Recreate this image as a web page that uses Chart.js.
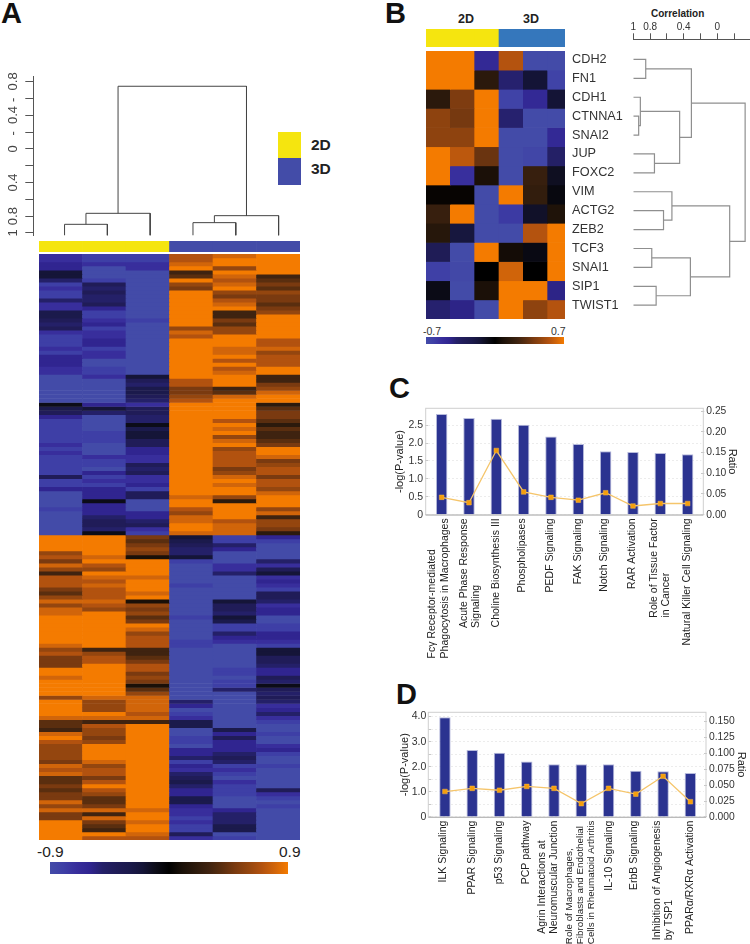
<!DOCTYPE html>
<html>
<head>
<meta charset="utf-8">
<script src="https://cdn.jsdelivr.net/npm/chart.js@4"></script>
<style>
  html, body { margin: 0; background: #fff; }
  #page { position: relative; width: 750px; height: 944px; overflow: hidden; font-family: "Liberation Sans", Arial, sans-serif; color: #222; }
  #page canvas { position: absolute; display: block; }
  .txt { position: absolute; white-space: nowrap; line-height: 1; }
  .clip { position: absolute; overflow: hidden; }
</style>
</head>
<body>
<div id="page"></div>
<script>
// panel A heatmap, one list per sample, values x10 on the -0.9..0.9 scale
const heatA2D1 = [
  -7,-7,-6,-6,-2,-2,-5,-8,-7,-8, -8,-5,-7,-7,-3,-3,-4,-5,-4,-7, -8,-8,-8,-7,-8,-6,-6,-6,-7,-7,
  -9,-9,-9,-9,-9,-9,-9,-1,-3,-4, -6,-8,-8,-8,-8,-8,-8,-7,-8,-7, -8,-8,-8,-8,-8,-4,-8,-8,-6,-9,
  -9,-9,-9,-8,-9,-9,-9,-9,-9,-9,
  9,9,9,9,6,7,5,8,6,3, 7,7,7,5,4,6,8,6,8,8, 9,9,9,9,9,9,9,8,6,7, 5,5,5,9,9,8,9,9,9,9,
  6,9,9,9,9,8,4,4,3,8, 9,7,6,6,6,6,5,8,7,8, 4,4,5,4,5,5,8,6,8,5, 5,9,9,9,9,9];
const heatA2D2 = [
  -8,-8,-7,-9,-9,-9,-8,-4,-5,-4, -5,-5,-4,-6,-8,-8,-7,-6,-8,-7, -7,-6,-6,-8,-7,-7,-9,-9,-8,-8,
  -7,-9,-9,-9,-9,-9,-9,-6,-2,-5, -9,-9,-9,-9,-8,-8,-8,-9,-9,-9, -7,-8,-8,-9,-6,-8,-7,-8,-6,-6,
  -6,-1,-6,-6,-6,-5,-4,-4,-5,-1,
  9,9,9,9,9,8,9,7,6,9, 8,7,8,7,7,7,8,7,6,9, 9,9,9,9,9,9,9,9,3,6, 7,7,9,9,9,9,9,9,9,9,
  8,6,6,6,9,8,3,7,6,6, 5,6,9,9,9,9,8,6,7,7, 5,7,9,7,6,4,4,5,8,3, 8,5,4,3,9,7];
const heatA2D3 = [
  -8,-8,-7,-7,-9,-9,-9,-9,-9,-9, -9,-9,-9,-9,-9,-9,-8,-9,-9,-9, -9,-9,-9,-9,-9,-9,-9,-9,-9,-9,
  -2,-4,-5,-3,-3,-4,-5,-7,-4,-4, -5,-5,-1,-3,-2,-2,-4,-4,-6,-6, -7,-7,-4,-5,-4,-7,-7,-6,-8,-4,
  -4,-9,-9,-9,-6,-6,-5,-4,-7,-8,
  5,4,5,6,5,1,9,9,9,9, 8,9,9,9,8,9,1,6,5,6, 4,5,9,8,6,7,7,7,3,3, 4,5,7,7,5,6,5,1,4,6,
  8,8,8,8,7,8,3,9,9,9, 9,9,9,9,9,9,9,9,9,9, 9,9,9,9,9,9,9,9,8,9, 9,8,9,9,8,7];
const heatA3D1 = [
  7,7,8,9,3,4,9,6,5,9, 9,9,9,9,9,9,9,9,6,8, 7,9,9,9,9,9,9,9,9,9,
  9,7,7,5,5,6,7,9,9,9, 9,9,9,9,9,9,9,9,9,9, 9,9,9,9,9,9,9,9,9,9,
  8,9,9,7,6,8,8,9,9,8,
  -2,-3,-4,-5,-5,-2,-8,-9,-9,-9, -9,-9,-8,-9,-9,-9,-9,-9,-9,-9, -8,-9,-9,-9,-9,-9,-8,-8,-9,-9,
  -9,-9,-9,-9,-9,-9,-9,-9,-9,-9, -9,-5,-6,-9,-8,-7,-3,-3,-9,-9, -8,-8,-9,-6,-6,-5,-8,-6,-7,-5,
  -4,-3,-5,-6,-6,-3,-3,-6,-7,-7, -8,-7,-8,-8,-4,-7];
const heatA3D2 = [
  8,9,9,6,9,8,7,8,9,6, 5,7,8,9,3,3,5,4,6,6, 9,9,9,8,8,9,7,9,7,8,
  9,9,9,3,4,8,9,9,9,9, 9,7,9,8,9,6,8,9,6,7, 7,7,7,5,6,8,9,8,9,9,
  6,2,9,9,9,9,7,8,8,8,
  -8,-8,-5,-6,-9,-9,-9,-7,-7,-5, -9,-9,-9,-9,-9,-9,-2,-4,-4,-5, -2,-3,-8,-8,-5,-6,-7,-9,-9,-9,
  -9,-9,-9,-8,-8,-9,-8,-8,-5,-9, -9,-9,-9,-9,-9,-9,-9,-9,-3,-6, -4,-6,-6,-6,-5,-4,-5,-8,-7,-8,
  -9,-7,-8,-8,-8,-9,-9,-9,-6,-5, -5,-5,-3,-3,-9,-8];
const heatA3D3 = [
  9,9,9,9,9,3,4,5,4,6, 5,5,4,5,6,9,9,9,9,9, 9,7,7,8,6,7,7,7,9,9,
  3,3,5,6,8,9,9,2,4,5, 5,4,2,4,3,3,4,5,9,9, 8,5,6,7,7,5,7,7,6,8,
  9,9,9,6,8,3,6,6,5,2,
  -6,-8,-9,-9,-9,-9,-5,-7,-4,-2, -7,-6,-7,-8,-4,-4,-5,-7,-6,-6, -9,-9,-8,-8,-6,-6,-7,-8,-2,-2,
  -4,-4,-5,-6,-6,-4,-5,-1,-4,-5, -4,-5,-7,-6,-5,-7,-8,-9,-9,-8, -9,-9,-7,-6,-8,-9,-9,-8,-9,-9,
  -9,-9,-9,-4,-7,-8,-9,-8,-9,-9, -9,-9,-9,-9,-9,-9];

// panel B heatmap, one list per sample, values x10 on the -0.7..0.7 scale
const genesB = ['CDH2','FN1','CDH1','CTNNA1','SNAI2','JUP','FOXC2','VIM','ACTG2','ZEB2','TCF3','SNAI1','SIP1','TWIST1'];
const heatB2D1 = [7,7,1.5,4.5,4.5,7,7,0.2,2,1.3,-3,-6.3,-0.7,-4];
const heatB2D2 = [7,7,4,3.8,4.5,5.7,-5.5,0.2,7,-1.8,-7,-6.8,-7,-4.5];
const heatB2D3 = [-5,1.5,7,7,7,3.5,0.8,-7,-7,-7,7,0,0.8,-7];
const heatB3D1 = [5.5,-4,-6.5,-4,-7,-7,-7,7,-6,-7,0.6,6.2,7,7];
const heatB3D2 = [-7,-1.5,-5,-7,-7,-6.7,2,1.8,-1.2,5.5,-0.6,0,7,4.5];
const heatB3D3 = [-7,-6.5,-1.5,-7,-5,-3.8,-1,-0.5,1,7,7,7,-4.5,5.5];

// colour scale, blue (low) to black to orange (high)
const heatStops = ['#434ba8','#3e3fa6','#382e9c','#302590','#242068','#201c58','#1b1a4c','#151538','#0c0c18','#000000',
  '#1a1008','#2c1a0c','#3f2310','#5a2e0f','#7a3a10','#94460f','#b2520f','#d1650a','#f47b00'];
const groupColours2D3D = ['#f5e50f','#f5e50f','#f5e50f','#434ca8','#434ca8','#434ca8'];
const groupColoursB = ['#f5e50f','#f5e50f','#f5e50f','#3577bc','#3577bc','#3577bc'];

// dendrograms, R hclust style: negative = leaf, positive = earlier merge
const mergeA = [[-1,-2],[1,-3],[-4,-5],[3,-6],[2,4]];
const heightA = [0.897,0.766,0.877,0.794,-0.746];
const axisTicksA = [-0.8,-0.6,-0.4,-0.2,0,0.2,0.4,0.6,0.8,1];
const axisLabelsA = ['-  0.8   ','','-  0.4   ','','0','','0.4','','0.8','1'];
const mergeB = [[-1,-2],[-4,-5],[-3,2],[-6,-7],[3,4],[1,5],[-9,-10],[-8,7],[-11,-12],[-13,-14],[9,10],[8,11],[6,12]];
const heightB = [0.852,0.936,0.916,0.748,0.448,0.308,0.64,0.54,0.78,0.728,0.32,-0.148,-0.332];
const axisTicksB = [1,0.8,0.6,0.4,0.2,0,-0.2];
const axisLabelsB = ['1','0.8','','0.4','','0',''];

// panel C
const pathwaysC = [['Fc\u03b3 Receptor-mediated','Phagocytosis in Macrophages'],['Acute Phase Response','Signaling'],['Choline Biosynthesis III'],['Phospholipases'],['PEDF Signaling'],['FAK Signaling'],['Notch Signaling'],['RAR Activation'],['Role of Tissue Factor','in Cancer'],['Natural Killer Cell Signaling']];
const logPC = [2.81,2.70,2.68,2.51,2.18,1.97,1.77,1.75,1.72,1.69];
const ratioC = [0.042,0.029,0.155,0.055,0.042,0.035,0.053,0.021,0.027,0.027];
const leftTicksC = [0,0.5,1,1.5,2,2.5];
const leftLabelsC = ['0','0.5','1.0','1.5','2.0','2.5'];
const rightTicksC = [0,0.05,0.1,0.15,0.2,0.25];
const rightLabelsC = ['0.00','0.05','0.10','0.15','0.20','0.25'];

// panel D
const pathwaysD = [['ILK Signaling'],['PPAR Signaling'],['p53 Signaling'],['PCP pathway'],['Agrin Interactions at','Neuromuscular Junction'],['Role of Macrophages,','Fibroblasts and Endothelial','Cells in Rheumatoid Arthritis'],['IL-10 Signaling'],['ErbB Signaling'],['Inhibition of Angiogenesis','by TSP1'],['PPAR\u03b1/RXR\u03b1 Activation']];
const logPD = [3.97,2.67,2.56,2.21,2.10,2.10,2.10,1.84,1.82,1.75];
const ratioD = [0.040,0.045,0.042,0.048,0.045,0.021,0.045,0.036,0.064,0.024];
const leftTicksD = [0,0.5,1,1.5,2,2.5,3,3.5,4];
const leftLabelsD = ['0','','1.0','','2.0','','3.0','','4.0'];
const rightTicksD = [0,0.025,0.05,0.075,0.1,0.125,0.15];
const rightLabelsD = ['0.000','0.025','0.050','0.075','0.100','0.125','0.150'];

const FONT = '"Liberation Sans", Arial, sans-serif';
const page = document.getElementById('page');
Chart.defaults.font.family = FONT;
Chart.defaults.animation = false;
Chart.defaults.responsive = false;
Chart.defaults.plugins.legend.display = false;
Chart.defaults.plugins.tooltip.enabled = false;

function addCanvas(x, y, w, h, parent) {
  const c = document.createElement('canvas');
  c.width = w; c.height = h;
  c.style.left = x + 'px'; c.style.top = y + 'px';
  c.style.width = w + 'px'; c.style.height = h + 'px';
  (parent || page).appendChild(c);
  return c;
}

function addText(str, x, y, size, opts) {
  const d = document.createElement('div');
  d.className = 'txt';
  d.textContent = str;
  d.style.left = x + 'px'; d.style.top = y + 'px';
  d.style.fontSize = size + 'px';
  if (opts && opts.bold) d.style.fontWeight = 'bold';
  if (opts && opts.color) d.style.color = opts.color;
  page.appendChild(d);
}

function addBox(x, y, w, h, bg) {
  const d = document.createElement('div');
  d.style.cssText = 'position:absolute;left:' + x + 'px;top:' + y + 'px;width:' + w + 'px;height:' + h + 'px;background:' + bg;
  page.appendChild(d);
}

function hexToRgb(hex) {
  return [1, 3, 5].map(i => parseInt(hex.substr(i, 2), 16));
}

// t runs from -1 to 1
function heatColour(t) {
  const pos = (Math.max(-1, Math.min(1, t)) + 1) * (heatStops.length - 1) / 2;
  const i = Math.min(Math.floor(pos), heatStops.length - 2);
  const a = hexToRgb(heatStops[i]), b = hexToRgb(heatStops[i + 1]);
  const f = pos - i;
  return 'rgb(' + a.map((v, k) => Math.round(v + (b[k] - v) * f)).join(',') + ')';
}

// rows of stacked unit bars, every cell goes through the chart's own scales
function heatChart(canvas, rows, colourOf) {
  const labels = rows[0].map((_, i) => i);
  new Chart(canvas, {
    type: 'bar',
    data: {
      labels: labels,
      datasets: rows.map(row => ({
        data: row.map(() => 1),
        backgroundColor: row.map(colourOf),
        borderWidth: 0,
        barPercentage: 1,
        categoryPercentage: 1
      }))
    },
    options: {
      layout: { padding: 0 },
      scales: {
        x: { stacked: true, display: false },
        y: { stacked: true, display: false, reverse: true, min: 0, max: rows.length }
      }
    }
  });
}

function transpose(cols) {
  return cols[0].map((_, r) => cols.map(c => c[r]));
}

function dendroSegments(merge, height, leafHeight) {
  const nodes = [];
  const read = id => id < 0 ? { pos: -id, h: leafHeight } : nodes[id - 1];
  return merge.map((m, i) => {
    const a = read(m[0]), b = read(m[1]), h = height[i];
    nodes.push({ pos: (a.pos + b.pos) / 2, h: h });
    return [a.pos, a.h, b.pos, b.h, h];
  });
}

function setTicks(values) {
  return scale => { scale.ticks = values.map(v => ({ value: v })); };
}

// panel letters and loose text
addText('A', 1, -1, 29, { bold: true, color: '#111' });
addText('B', 385, -1, 29, { bold: true, color: '#111' });
addText('C', 389, 374, 29, { bold: true, color: '#111' });
addText('D', 396, 680, 29, { bold: true, color: '#111' });

// ----- panel A -----
addBox(278, 132, 23, 26, '#f5e50f');
addBox(278, 158, 23, 27, '#434ca8');
addText('2D', 311, 137, 15.5, { bold: true });
addText('3D', 311, 161, 15.5, { bold: true });

heatChart(addCanvas(39, 241, 261, 11), [groupColours2D3D], c => c);
const rowsA = transpose([heatA2D1, heatA2D2, heatA2D3, heatA3D1, heatA3D2, heatA3D3]);
heatChart(addCanvas(39, 254, 261, 586), rowsA, v => heatColour(v / 9));

addText('-0.9', 37, 844, 15.5);
addText('0.9', 279, 844, 15.5);
addBox(50, 862, 238, 12, 'linear-gradient(to right,' + heatStops.join(',') + ')');

const segsA = dendroSegments(mergeA, heightA, 1.03);
new Chart(addCanvas(0, 60, 300, 178), {
  type: 'scatter',
  data: {
    datasets: segsA.map(s => ({
      data: [{ x: s[0], y: s[1] }, { x: s[0], y: s[4] }, { x: s[2], y: s[4] }, { x: s[2], y: s[3] }],
      showLine: true, pointRadius: 0, borderColor: '#444', borderWidth: 1, tension: 0
    }))
  },
  options: {
    layout: { padding: { top: 16, bottom: 2.5 } },
    scales: {
      x: { display: false, type: 'linear', min: 0.27, max: 6.5 },
      y: {
        reverse: true, min: -0.868, max: 1.03,
        afterFit: s => { s.width = 33.3; },
        afterBuildTicks: setTicks(axisTicksA),
        grid: { drawOnChartArea: false, drawTicks: true, tickLength: 8, tickColor: '#555', color: '#555' },
        border: { display: true, color: '#555' },
        ticks: {
          autoSkip: false, minRotation: 90, maxRotation: 90, crossAlign: 'center', padding: -8.7,
          color: '#444', font: { size: 13 },
          callback: (v, i) => axisLabelsA[i]
        }
      }
    }
  }
});

// ----- panel B -----
addText('2D', 458, 13, 12.5, { bold: true });
addText('3D', 523, 13, 12.5, { bold: true });
function clipped(x, y, w, h) {
  const d = document.createElement('div');
  d.className = 'clip';
  d.style.cssText += 'left:' + x + 'px;top:' + y + 'px;width:' + w + 'px;height:' + h + 'px';
  page.appendChild(d);
  return d;
}
// the last sample column of this panel is cut short in the figure
heatChart(addCanvas(0, 0, 146, 18, clipped(426, 29, 139, 18)), [groupColoursB], c => c);
const rowsB = transpose([heatB2D1, heatB2D2, heatB2D3, heatB3D1, heatB3D2, heatB3D3]);
heatChart(addCanvas(0, 0, 146, 268, clipped(426, 51, 139, 268)), rowsB, v => heatColour(v / 7));

addText('-0.7', 423, 326, 10.5, { color: '#333' });
addText('0.7', 551, 326, 10.5, { color: '#333' });
addBox(426, 337, 138, 7, 'linear-gradient(to right,' + heatStops.join(',') + ')');
addText('Correlation', 651, 9, 10, { bold: true });

const segsB = dendroSegments(mergeB, heightB, 1);
new Chart(addCanvas(565, 0, 185, 330), {
  type: 'scatter',
  data: {
    datasets: segsB.map(s => ({
      data: [{ x: s[1], y: s[0] }, { x: s[4], y: s[0] }, { x: s[4], y: s[2] }, { x: s[3], y: s[2] }],
      showLine: true, pointRadius: 0, borderColor: '#8f8f8f', borderWidth: 1.2, tension: 0
    }))
  },
  options: {
    layout: { padding: 0 },
    scales: {
      x: {
        position: 'top', type: 'linear', reverse: true, min: -0.39, max: 1,
        afterFit: s => { s.height = 39.3; },
        afterBuildTicks: setTicks(axisTicksB),
        grid: { drawOnChartArea: false, drawTicks: true, tickLength: 6, tickColor: '#555', color: '#555' },
        border: { display: true, color: '#555' },
        ticks: { autoSkip: false, maxRotation: 0, padding: 0, color: '#333', font: { size: 10 }, callback: (v, i) => axisLabelsB[i] }
      },
      y: {
        reverse: true, min: -0.067, max: 14.91,
        afterFit: s => { s.width = 68.3; },
        afterBuildTicks: setTicks(genesB.map((_, i) => i + 1)),
        grid: { display: false, drawTicks: false },
        border: { display: false },
        ticks: { autoSkip: false, crossAlign: 'far', padding: 0, color: '#333', font: { size: 12.7 }, callback: (v, i) => '  ' + genesB[i] }
      }
    }
  }
});

// ----- panels C and D -----
function pathwayChart(cfg) {
  const framePlugin = {
    id: 'frameAndLabels',
    beforeDatasetsDraw(chart) {
      const a = chart.chartArea, ctx = chart.ctx;
      ctx.save();
      ctx.strokeStyle = '#cfcfcf';
      ctx.lineWidth = 1;
      ctx.strokeRect(a.left - cfg.frame[0], a.top, a.width + cfg.frame[0] + cfg.frame[1], a.height);
      ctx.strokeStyle = '#bbb';
      ctx.beginPath();
      ctx.moveTo(a.left - cfg.frame[0], a.bottom + 0.5);
      ctx.lineTo(a.right + cfg.frame[1], a.bottom + 0.5);
      ctx.stroke();
      ctx.restore();
    },
    afterDraw(chart) {
      const a = chart.chartArea, ctx = chart.ctx, xs = chart.scales.x;
      ctx.save();
      ctx.fillStyle = '#222';
      ctx.textBaseline = 'middle';
      ctx.textAlign = 'left';
      cfg.labels.forEach((lines, i) => {
        const size = lines.length > 2 ? 9.8 : 10.5;
        const step = lines.length > 2 ? 11 : 12.5;
        ctx.font = size + 'px ' + FONT;
        const longest = Math.max(...lines.map(l => ctx.measureText(l).width));
        const startY = a.bottom + 3.6 + longest;
        const cx = xs.getPixelForValue(i) + cfg.labelNudge[i];
        lines.forEach((line, k) => {
          ctx.save();
          ctx.translate(cx + (k - (lines.length - 1) / 2) * step, startY);
          ctx.rotate(-Math.PI / 2);
          ctx.fillText(line, 0, 0);
          ctx.restore();
        });
      });
      ctx.restore();
    }
  };
  new Chart(addCanvas(375, cfg.top, 375, cfg.height), {
    data: {
      labels: cfg.labels.map(l => l.join(' ')),
      datasets: [
        {
          type: 'line', data: cfg.ratio, yAxisID: 'y2', order: 0,
          borderColor: '#f5c56b', borderWidth: 1.3, tension: 0,
          pointStyle: 'rect', pointRadius: 3.3, pointBackgroundColor: '#f59e0b', pointBorderColor: '#f5b84a', pointBorderWidth: 0.5
        },
        {
          type: 'bar', data: cfg.logP, yAxisID: 'y', order: 1,
          backgroundColor: '#2b3390', borderColor: '#b7bbdc', borderWidth: 1,
          barPercentage: 0.42, categoryPercentage: 1
        }
      ]
    },
    options: {
      layout: { padding: { top: cfg.padTop, right: 0 } },
      scales: {
        x: {
          grid: { display: false }, border: { display: false }, ticks: { display: false },
          afterFit: s => { s.height = cfg.xHeight; }
        },
        y: {
          position: 'left', min: 0, max: cfg.leftMax,
          afterFit: s => { s.width = cfg.leftWidth; },
          afterBuildTicks: setTicks(cfg.leftTicks),
          grid: { color: '#ececec', tickColor: '#c8c8c8', tickLength: 3 },
          border: { display: false, dash: [2, 2] },
          ticks: { autoSkip: false, padding: 2, color: '#333', font: { size: 10.5 }, callback: (v, i) => cfg.leftLabels[i] },
          title: { display: true, text: '-log(P-value)', color: '#222', font: { size: 11 }, padding: { top: cfg.leftTitlePad, bottom: 0 } }
        },
        y2: {
          position: 'right', min: 0, max: cfg.rightMax,
          afterFit: s => { s.width = cfg.rightWidth; },
          afterBuildTicks: setTicks(cfg.rightTicks),
          grid: { drawOnChartArea: false, tickColor: '#c8c8c8', tickLength: 3 },
          border: { display: false },
          ticks: { autoSkip: false, padding: 2, color: '#333', font: { size: 10.3 }, callback: (v, i) => cfg.rightLabels[i] },
          title: { display: true, text: 'Ratio', color: '#222', font: { size: 11 }, padding: { top: cfg.rightTitlePad, bottom: 0 } }
        }
      }
    },
    plugins: [framePlugin]
  });
}

pathwayChart({
  top: 400, height: 260, padTop: 6.7, xHeight: 145.3, leftWidth: 53, rightWidth: 48.7,
  frame: [2.3, 2], leftTitlePad: 18, rightTitlePad: 11,
  labels: pathwaysC, logP: logPC, ratio: ratioC,
  labelNudge: [-3, 1, 0, -2, -1, 0, -2, -1, 0, -1],
  leftMax: 2.97, rightMax: 0.257,
  leftTicks: leftTicksC, leftLabels: leftLabelsC, rightTicks: rightTicksC, rightLabels: rightLabelsC
});

pathwayChart({
  top: 704, height: 240, padTop: 6.7, xHeight: 127, leftWidth: 56.3, rightWidth: 46,
  frame: [3, 2], leftTitlePad: 23, rightTitlePad: 2,
  labels: pathwaysD, logP: logPD, ratio: ratioD,
  labelNudge: [-2, 0, 0, -1, -6, -1, 1, -2, 0, 0],
  leftMax: 4.17, rightMax: 0.1644,
  leftTicks: leftTicksD, leftLabels: leftLabelsD, rightTicks: rightTicksD, rightLabels: rightLabelsD
});
</script>
</body>
</html>
